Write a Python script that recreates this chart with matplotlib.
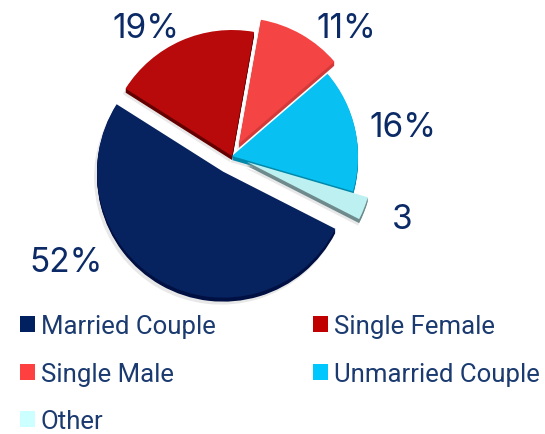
import matplotlib
matplotlib.use("Agg")
import matplotlib.pyplot as plt
from matplotlib.patches import Patch

# Values
categories = ["Married Couple", "Single Female", "Single Male", "Unmarried Couple", "Other"]
values = [52, 19, 11, 16, 3]
pctLabels = ["52%", "19%", "11%", "16%", "3"]

faceColors = ["#07235f", "#b80a0a", "#f54444", "#08c0f2", "#bdf1f1"]
sideColors = ["#011043", "#650000", "#d23a3a", "#0088aa", "#6e8a8c"]
legendColors = ["#002060", "#c00000", "#ff4040", "#00c8ff", "#ccffff"]
textColor = "#0b2a66"
legendTextColor = "#1a3a70"

# Pie geometry, in pixels of the figure
explode = [18, 0, 14, 0, 16]
radius = 126
cx, cy = 232, 435 - 157
depth = 4
startAngle = -27

# Where the percent labels sit
labelX = [66, 146, 346, 403, 402]
labelY = [263, 29, 29, 128, 220]

# legend reads across, matplotlib fills columns first
legendOrder = [0, 2, 4, 1, 3]

fig = plt.figure(figsize=(5.45, 4.35), dpi=100)
ax = fig.add_axes([0, 0, 1, 1])

# soft shadow
ax.pie(values, explode=explode, radius=radius + 1, center=(cx - 2, cy - depth - 2),
       startangle=startAngle, counterclock=False, colors=["#000000"] * 5,
       wedgeprops={"alpha": 0.09, "linewidth": 0})

# side walls
for d in range(depth, 0, -1):
    ax.pie(values, explode=explode, radius=radius, center=(cx, cy - d),
           startangle=startAngle, counterclock=False, colors=sideColors,
           wedgeprops={"linewidth": 0})

# top faces
ax.pie(values, explode=explode, radius=radius, center=(cx, cy),
       startangle=startAngle, counterclock=False, colors=faceColors,
       wedgeprops={"linewidth": 0})

ax.set_xlim(0, 545)
ax.set_ylim(0, 435)
ax.set_aspect("equal")
ax.axis("off")

for lab, x, y in zip(pctLabels, labelX, labelY):
    ax.text(x, 435 - y, lab, ha="center", va="center", fontsize=24,
            color=textColor, family="Inter")

handles = [Patch(facecolor=legendColors[i], edgecolor="none") for i in legendOrder]
names = [categories[i] for i in legendOrder]
ax.legend(handles, names, ncol=2, loc="upper left",
          bbox_to_anchor=(20 / 545, 1 - 315 / 435), borderaxespad=0, borderpad=0,
          frameon=False, prop={"family": "Roboto", "size": 18.5},
          labelcolor=legendTextColor, handlelength=0.58, handleheight=0.58,
          handletextpad=0.23, labelspacing=0.92, columnspacing=3.8)

fig.savefig("out.png", dpi=100)
plt.close()
